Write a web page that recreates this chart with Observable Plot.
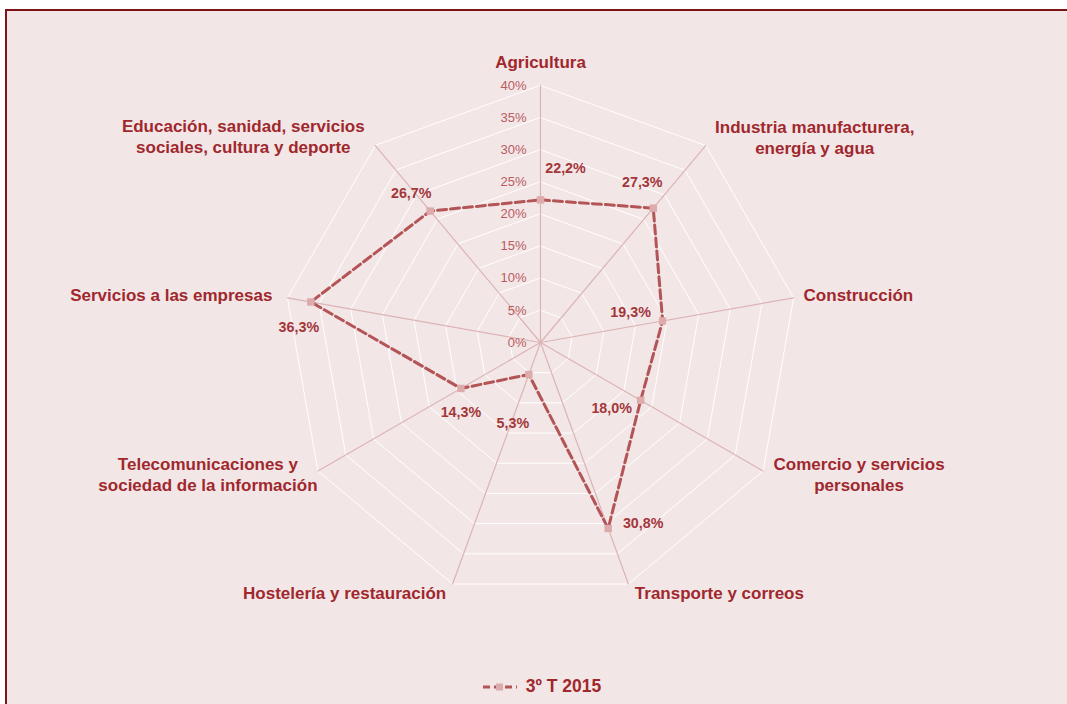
<!DOCTYPE html>
<html>
<head>
<meta charset="utf-8">
<script src="https://cdn.jsdelivr.net/npm/d3@7"></script>
<script src="https://cdn.jsdelivr.net/npm/@observablehq/plot@0.6"></script>
<style>
  html, body { margin: 0; padding: 0; background: #ffffff; overflow: hidden; }
  #wrap { position: relative; width: 1067px; height: 704px; font-family: "Liberation Sans", Arial, sans-serif; }
  #frame { position: absolute; left: 5px; top: 9px; width: 1080px; height: 720px; border: 2px solid #7e1416; background: #f3e6e7; box-sizing: border-box; }
  #chart { position: absolute; left: 0; top: 0; }
  #legend { position: absolute; left: 0; top: 676px; width: 1067px; text-align: center; font-weight: bold; font-size: 17.5px; color: #a0282d; padding-left: 16px; box-sizing: border-box; }
  #legend svg { vertical-align: middle; margin-right: 8px; }
</style>
</head>
<body>
<div id="wrap">
  <div id="frame"></div>
  <div id="chart"></div>
  <div id="legend"></div>
</div>
<script>
// ---- data ----
const categories = [
  "Agricultura",
  "Industria manufacturera,\nenergía y agua",
  "Construcción",
  "Comercio y servicios\npersonales",
  "Transporte y correos",
  "Hostelería y restauración",
  "Telecomunicaciones y\nsociedad de la información",
  "Servicios a las empresas",
  "Educación, sanidad, servicios\nsociales, cultura y deporte"
];
const values = [22.2, 27.3, 19.3, 18.0, 30.8, 5.3, 14.3, 36.3, 26.7];
const seriesName = "3º T 2015";
const tickLevels = [0, 5, 10, 15, 20, 25, 30, 35, 40];
const tickLabels = ["0%", "5%", "10%", "15%", "20%", "25%", "30%", "35%", "40%"];

// label offsets (px) for value labels and category labels
const valueDx = [25, -11, -32, -29, 35, -16, 0, -12, -19];
const valueDy = [-31, -26, -9, 8, -5, 49, 24, 25, -18];
const catDx = [0, 109, 10, 96, 91, -108, -110, -15, -132];
const catDy = [-24, -9, -4, 3, 8, 8, 3, -4, -10];
const catAnchor = ["middle", "middle", "start", "middle", "middle", "middle", "middle", "end", "middle"];

// ---- geometry helpers ----
const n = categories.length;
const maxLevel = 40;
const angle = i => i * 2 * Math.PI / n;
const px = (v, i) => v * Math.sin(angle(i));
const py = (v, i) => v * Math.cos(angle(i));

const W = 1067, H = 660, cx = 540, cy = 342, R = 257;
const k = R / maxLevel; // px per unit

const rings = tickLevels.filter(l => l > 0).flatMap(l => categories.map((c, i) => ({level: l, x: px(l, i), y: py(l, i)})));
const spokes = categories.flatMap((c, i) => [{i, x: 0, y: 0}, {i, x: px(maxLevel, i), y: py(maxLevel, i)}]);
const pts = values.map((v, i) => ({
  i, v, x: px(v, i), y: py(v, i),
  lx: px(v, i) + valueDx[i] / k, ly: py(v, i) - valueDy[i] / k,
  label: v.toFixed(1).replace(".", ",") + "%"
}));
const catPts = categories.map((c, i) => ({
  i, c, anchor: catAnchor[i],
  x: px(maxLevel, i) + catDx[i] / k, y: py(maxLevel, i) - catDy[i] / k
}));
const ticks = tickLevels.map((l, j) => ({l, label: tickLabels[j]}));

const textColor = "#a0282d";
const catStyle = {x: "x", y: "y", text: "c", fontSize: 17, fontWeight: "bold", fill: textColor, lineHeight: 1.22};

const plot = Plot.plot({
  width: W,
  height: H,
  margin: 0,
  style: {background: "transparent", fontFamily: "'Liberation Sans', Arial, sans-serif"},
  x: {domain: [-cx / k, (W - cx) / k], axis: null},
  y: {domain: [-(H - cy) / k, cy / k], axis: null},
  marks: [
    Plot.line(rings, {x: "x", y: "y", z: "level", curve: "linear-closed", stroke: "#ffffff", strokeWidth: 1}),
    Plot.line(spokes, {x: "x", y: "y", z: "i", stroke: "#dcb4b5", strokeWidth: 1.2}),
    Plot.text(ticks, {x: 0, y: "l", text: "label", textAnchor: "end", dx: -14, fontSize: 13, fill: "#b85c5e"}),
    Plot.line(pts, {x: "x", y: "y", curve: "linear-closed", stroke: "#b35456", strokeWidth: 3, strokeDasharray: "9,4"}),
    Plot.dot(pts, {x: "x", y: "y", symbol: "square", r: 4.2, fill: "#ddabac", stroke: "none"}),
    Plot.text(pts, {x: "lx", y: "ly", text: "label", fontSize: 14.3, fontWeight: "bold", fill: "#a3373a"}),
    Plot.text(catPts.filter(d => d.anchor === "middle"), {...catStyle, textAnchor: "middle"}),
    Plot.text(catPts.filter(d => d.anchor === "start"), {...catStyle, textAnchor: "start"}),
    Plot.text(catPts.filter(d => d.anchor === "end"), {...catStyle, textAnchor: "end"})
  ]
});
document.getElementById("chart").appendChild(plot);

// legend
const leg = document.getElementById("legend");
leg.innerHTML = `<svg width="36" height="12"><line x1="1" y1="6" x2="35" y2="6" stroke="#b35456" stroke-width="3" stroke-dasharray="7,4"/><rect x="14" y="2.5" width="7" height="7" fill="#ddabac"/></svg><span>${seriesName}</span>`;
</script>
</body>
</html>
